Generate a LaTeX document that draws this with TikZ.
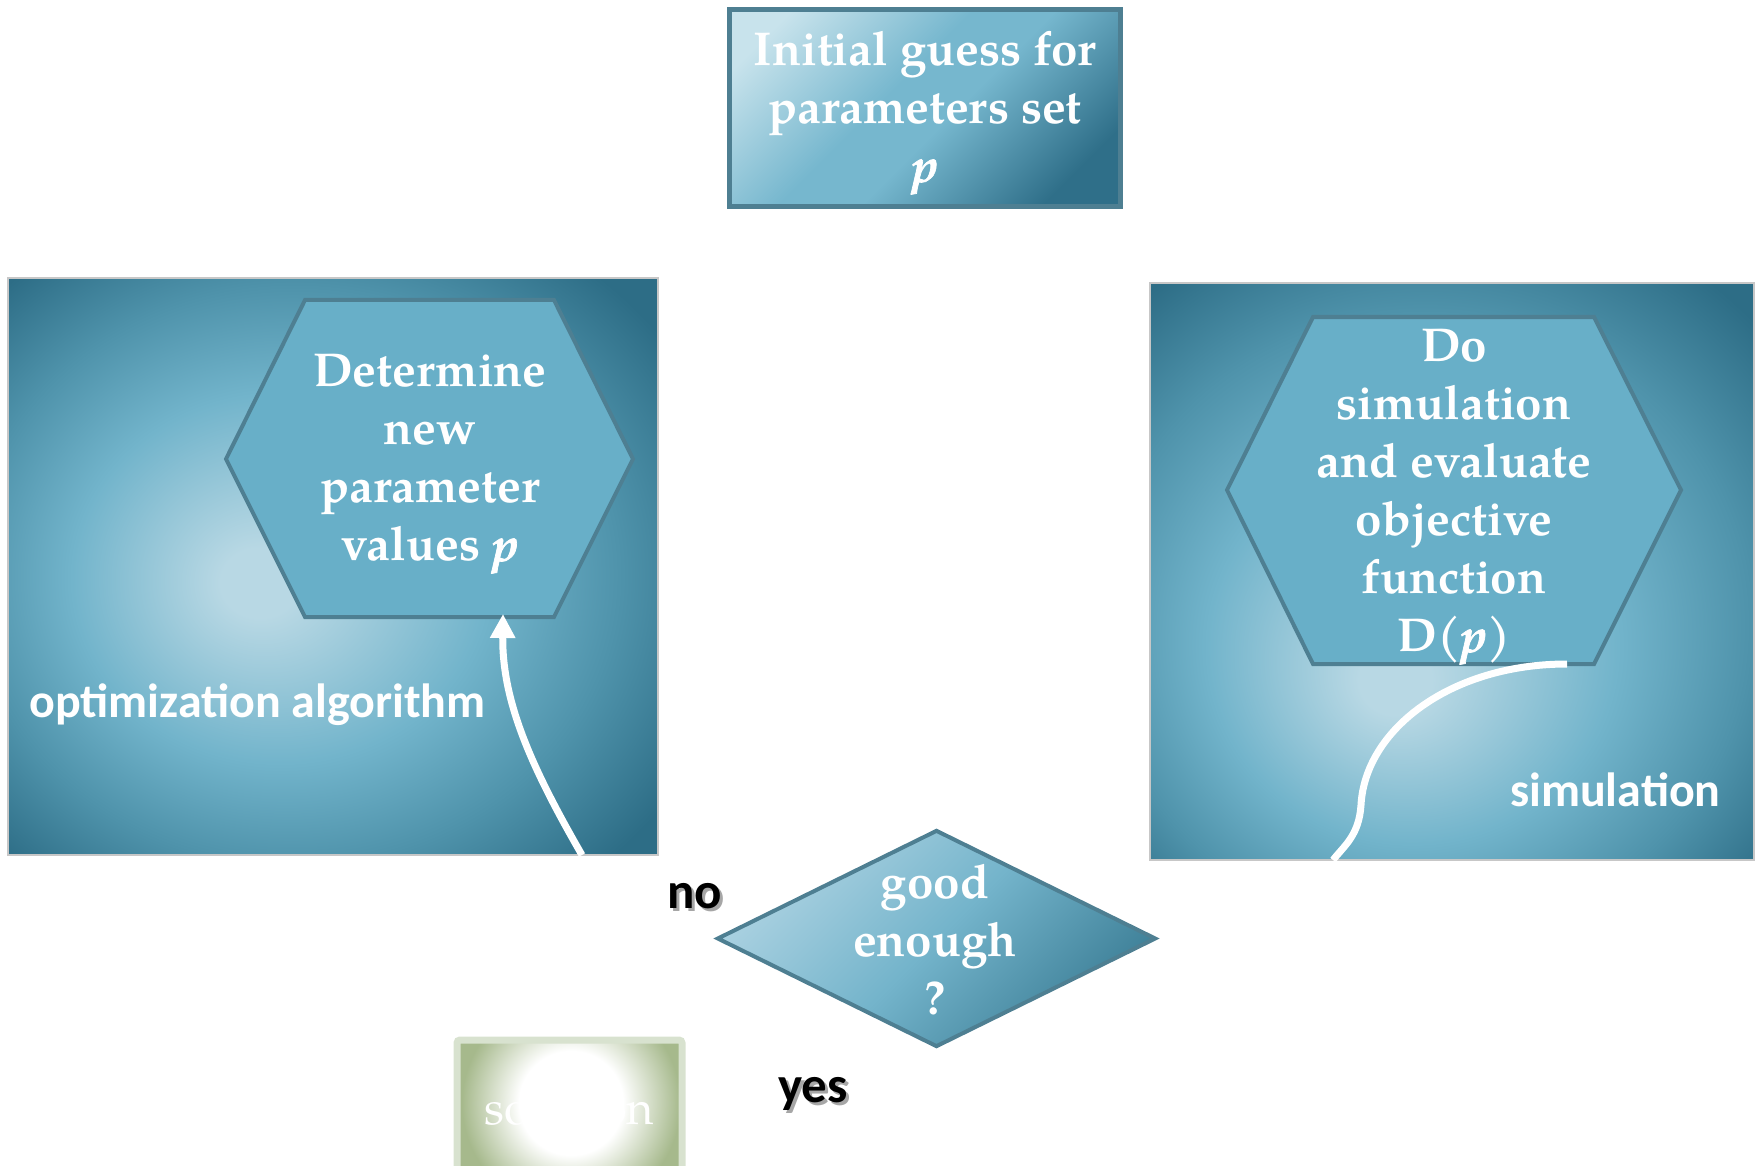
\documentclass[tikz,border=0pt]{standalone}
\usepackage{fontspec}
\setmainfont{TeX Gyre Pagella}
\newfontfamily\calfont{Carlito}
\newfontface\bpfont{texgyrepagella-bolditalic.otf}[FakeBold=1.5]
\usetikzlibrary{arrows.meta,shapes.geometric}

\definecolor{pl}{HTML}{B8D8E4}
\definecolor{pm}{HTML}{72B4CB}
\definecolor{pmd}{HTML}{4F93AB}
\definecolor{pd}{HTML}{2D6D86}
\definecolor{hexfill}{HTML}{68AFC8}
\definecolor{hexline}{HTML}{4E7F92}
\definecolor{solg}{HTML}{A6B98C}
\definecolor{solb}{HTML}{D8E2CF}
\definecolor{bx1}{HTML}{C8E3EC}
\definecolor{bx2}{HTML}{76B7CE}
\definecolor{bx3}{HTML}{2F6F89}
\definecolor{dm1}{HTML}{A8D0E0}
\definecolor{dm2}{HTML}{74B4CB}
\definecolor{dm3}{HTML}{3D7F97}

\pgfdeclareradialshading{panelL}{\pgfpoint{-6bp}{-1.5bp}}{color(0bp)=(pl); color(3bp)=(pl); color(16bp)=(pm); color(25bp)=(pmd); color(34bp)=(pd); color(50bp)=(pd)}
\pgfdeclareradialshading{panelR}{\pgfpoint{-5bp}{-10bp}}{color(0bp)=(pl); color(3bp)=(pl); color(17bp)=(pm); color(27bp)=(pmd); color(36bp)=(pd); color(50bp)=(pd)}
\pgfdeclareradialshading{glow}{\pgfpoint{0bp}{0bp}}{color(0bp)=(white); color(10bp)=(white); color(21bp)=(solg); color(50bp)=(solg)}
\pgfdeclarehorizontalshading{boxG}{100bp}{color(0bp)=(bx1); color(22bp)=(bx1); color(44bp)=(bx2); color(54bp)=(bx2); color(76bp)=(bx3); color(100bp)=(bx3)}
\pgfdeclarehorizontalshading{diaG}{100bp}{color(0bp)=(dm1); color(27bp)=(dm1); color(50bp)=(dm2); color(75bp)=(dm3); color(100bp)=(dm3)}

\tikzset{
  panel/.style={draw=black!22, line width=1.5pt, inner sep=0pt, shade},
  hexshape/.style={fill=hexfill, draw=hexline, line width=4pt, line join=miter},
  serif/.style={text=white, font=\fontsize{47.5}{58}\selectfont\bfseries, align=center, inner sep=0pt},
  sanslab/.style={text=white, font=\calfont\bfseries\fontsize{48}{56}\selectfont, inner sep=0pt, anchor=base west},
  blacklab/.style={text=black, font=\calfont\bfseries\fontsize{51}{60}\selectfont, inner sep=0pt, anchor=base west},
  shadowlab/.style={text=black!35, font=\calfont\bfseries\fontsize{51}{60}\selectfont, inner sep=0pt, anchor=base west},
  flowline/.style={draw=white, line width=7pt},
}
\newcommand{\bp}{{\bpfont p}}

\begin{document}
\begin{tikzpicture}[x=1pt,y=1pt]
\useasboundingbox (0,0) rectangle (1756,-1166);

% panels
\node[panel, shading=panelL, minimum width=650pt, minimum height=577pt] (optpanel) at (333,-566.5) {};
\node[panel, shading=panelR, minimum width=604pt, minimum height=577pt] (simpanel) at (1452,-571.5) {};

% top box
\node[shade, shading=boxG, shading angle=-45, draw=hexline, line width=5pt, minimum width=391pt, minimum height=197pt, inner sep=0pt] (initbox) at (925,-108) {};
\node[serif] (init) at (925,-113) {Initial guess for\\parameters set\\\bp};

% left hexagon
\draw[hexshape] (305,-300) -- (554,-300) -- (633,-459) -- (554,-617) -- (305,-617) -- (226,-459) -- cycle;
\node[serif] (det) at (430,-464) {Determine\\new\\parameter\\values \bp};

% right hexagon
\draw[hexshape] (1313,-317) -- (1594,-317) -- (1681,-490) -- (1594,-664) -- (1313,-664) -- (1227,-490) -- cycle;
\node[serif] (sim) at (1454,-497) {Do\\simulation\\and evaluate\\objective\\function\\D(\bp)};

% diamond
\node[diamond, shade, shading=diaG, shading angle=-45, draw=hexline, line width=4pt, minimum width=439pt, minimum height=217pt, inner sep=0pt] (gooddia) at (936.5,-938.5) {};
\node[serif] (good) at (935,-940) {good\\enough\\?};

% solution box
\node[draw=solb, line width=7pt, rounded corners=3pt, minimum width=225pt, minimum height=135pt, inner sep=0pt,
  text=white, font=\fontsize{47}{57.5}\selectfont,
  path picture={\fill[solg] (path picture bounding box.south west) rectangle (path picture bounding box.north east);
    \shade[shading=glow] ([shift={(1.5,4.5)}]path picture bounding box.center) circle (130pt);}]
  (sol) at (569.5,-1107.5) {solution};

% labels
\node[sanslab] (optlab) at (29,-717) {optimization algorithm};
\node[sanslab] (simlab) at (1510,-806) {simulation};
\node[shadowlab] (noshadow) at (670,-911) {no};
\node[blacklab] (no) at (667,-908) {no};
\node[shadowlab] (yesshadow) at (781,-1105) {yes};
\node[blacklab] (yes) at (778,-1102) {yes};

% connectors
\coordinate (optA) at (582,-855);
\coordinate (optB) at (503,-614);
\draw[flowline, -{Triangle[width=24pt,length=24pt]}] (optA) .. controls (530,-765) and (502,-700) .. (optB);
\coordinate (simA) at (1567,-664);
\coordinate (simB) at (1333,-860);
\draw[flowline] (simA) .. controls (1450,-664) and (1365,-730) .. (1361,-805) .. controls (1359,-835) and (1345,-845) .. (simB);
\end{tikzpicture}
\end{document}
